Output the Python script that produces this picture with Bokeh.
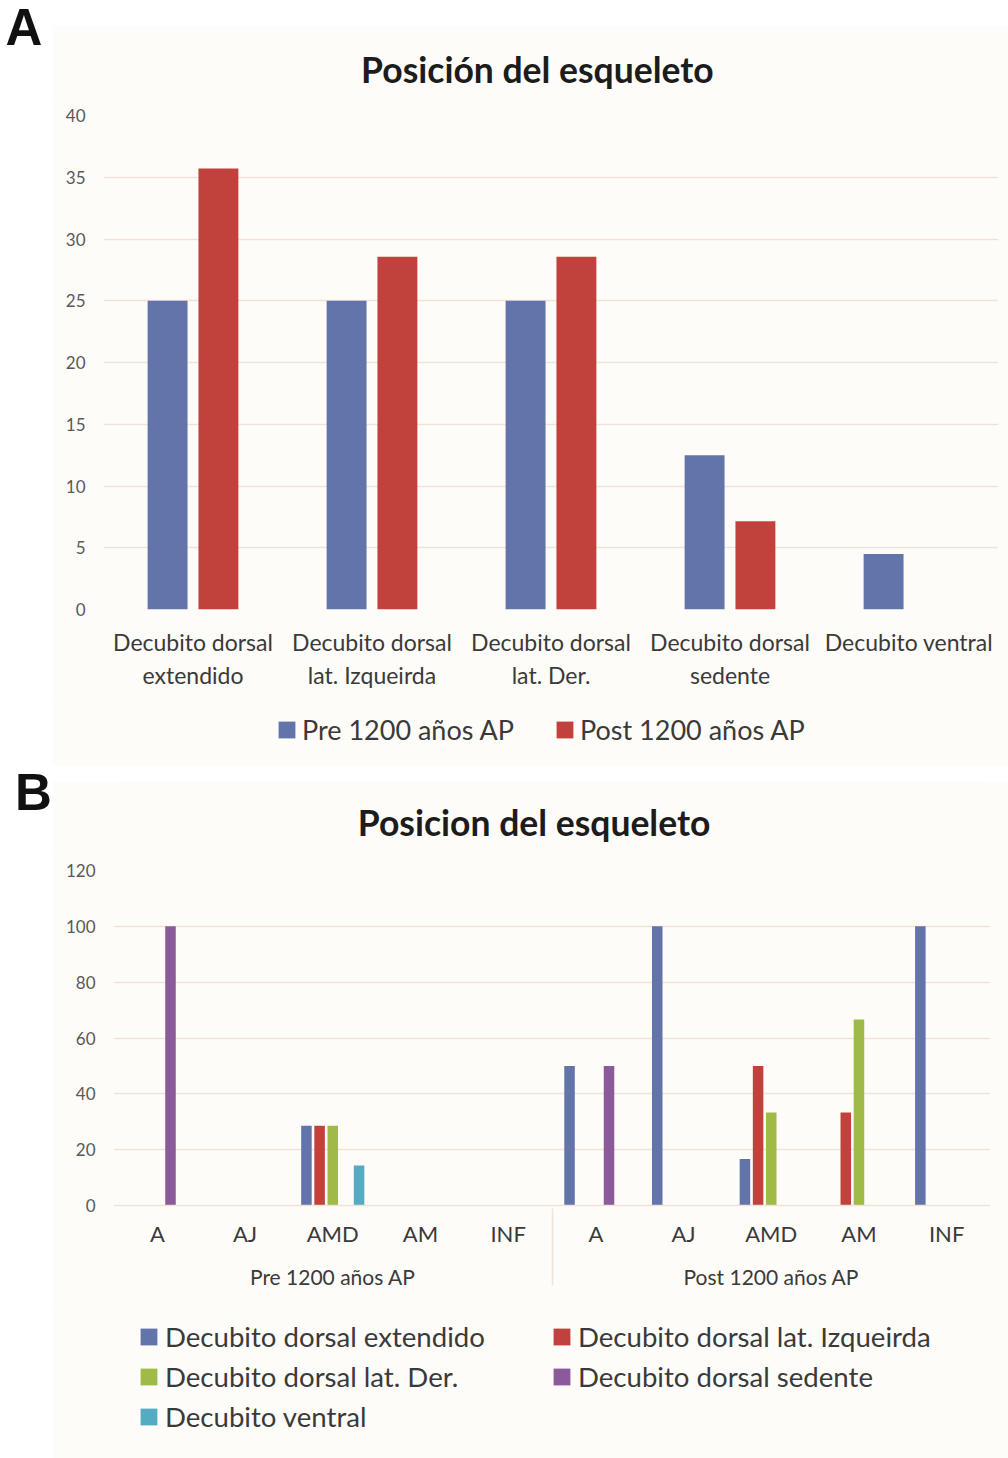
from bokeh.plotting import figure
from bokeh.models import FactorRange, Range1d, Legend, LegendItem, ColumnDataSource, Spacer
from bokeh.transform import dodge
from bokeh.layouts import column, row
from bokeh.core.properties import value
from bokeh.embed import file_html
from bokeh.resources import INLINE

# ---------------- Panel A data ----------------
a_categories = ["Decubito dorsal\nextendido", "Decubito dorsal\nlat. Izqueirda",
                "Decubito dorsal\nlat. Der.", "Decubito dorsal\nsedente", "Decubito ventral"]
a_series = ["Pre 1200 años AP", "Post 1200 años AP"]
a_pre = [25, 25, 25, 12.5, 4.5]
a_post = [35.71, 28.57, 28.57, 7.14, 0]
a_yticks = [0, 5, 10, 15, 20, 25, 30, 35, 40]
a_title = "Posición del esqueleto"

# ---------------- Panel B data ----------------
b_periods = ["Pre 1200 años AP", "Post 1200 años AP"]
b_ages = ["A", "AJ", "AMD", "AM", "INF"]
b_series = ["Decubito dorsal extendido", "Decubito dorsal lat. Izqueirda",
            "Decubito dorsal lat. Der.", "Decubito dorsal sedente", "Decubito ventral"]
b_extendido = [0, 0, 28.57, 0, 0, 50, 100, 16.67, 0, 100]
b_izquierda = [0, 0, 28.57, 0, 0, 0, 0, 50, 33.33, 0]
b_derecha = [0, 0, 28.57, 0, 0, 0, 0, 33.33, 66.67, 0]
b_sedente = [100, 0, 0, 0, 0, 50, 0, 0, 0, 0]
b_ventral = [0, 0, 14.29, 0, 0, 0, 0, 0, 0, 0]
b_yticks = [0, 20, 40, 60, 80, 100, 120]
b_title = "Posicion del esqueleto"

# ---------------- styles ----------------
CREAM = "#FEFCF8"
GRID = "#F1E1D6"
BLUE = "#6274A9"
RED = "#C1413D"
GREEN = "#9EBB48"
PURPLE = "#8A5A9B"
CYAN = "#55ABC3"
FONT = "Lato"
TICK_COL = "#595959"
LAB_COL = "#3A3A3A"
W = 956


def blank_fig(w, h, fill):
    p = figure(width=w, height=h, x_range=Range1d(0, w), y_range=Range1d(0, h),
               x_axis_location=None, y_axis_location=None, toolbar_location=None,
               output_backend="svg", min_border_left=0, min_border_right=0,
               min_border_top=0, min_border_bottom=0, outline_line_color=None, title=None,
               border_fill_color=fill, background_fill_color=fill)
    p.grid.visible = False
    return p


def letter_fig(letter, w, h, x, base_from_top):
    p = blank_fig(w, h, "white")
    p.text(x=[x], y=[h - base_from_top], text=[letter], text_font=value("Liberation Sans"),
           text_font_style="bold", text_font_size="51px", text_baseline="alphabetic",
           text_align="left", text_color="#111111")
    return p


def title_fig(text, h, xc, base_from_top):
    p = blank_fig(W, h, CREAM)
    p.text(x=[xc], y=[h - base_from_top], text=[text], text_font=value(FONT),
           text_font_style="bold", text_font_size="35.5px", text_baseline="alphabetic",
           text_align="center", text_color="#1C1C1C")
    return p


def legend_fig(h, labels, colors, loc, ncols, spacing, label_width, standoff, fsize):
    p = blank_fig(W, h, CREAM)
    items = []
    for lab, c in zip(labels, colors):
        # zero-size proxy renderer that only supplies the legend swatch colour
        r = p.vbar(x=[0], top=[0], width=0, fill_color=c, line_color=None)
        items.append(LegendItem(label=lab, renderers=[r]))
    leg = Legend(items=items, orientation="horizontal", ncols=ncols, location=loc,
                 spacing=spacing, label_standoff=standoff, label_width=label_width,
                 label_height=34, glyph_width=21, glyph_height=21, label_text_font=FONT,
                 label_text_font_size=fsize, label_text_color=LAB_COL,
                 border_line_color=None, background_fill_alpha=0, padding=0, margin=0)
    p.add_layout(leg)
    return p


def style_common(p):
    p.xgrid.grid_line_color = None
    p.ygrid.grid_line_color = GRID
    p.ygrid.grid_line_width = 1.5
    p.yaxis.axis_line_color = None
    p.yaxis.major_tick_line_color = None
    p.yaxis.minor_tick_line_color = None
    p.yaxis.major_tick_out = 0
    p.yaxis.major_tick_in = 0
    p.yaxis.major_label_standoff = 18
    p.yaxis.major_label_text_font = FONT
    p.yaxis.major_label_text_font_size = "17px"
    p.yaxis.major_label_text_color = TICK_COL
    p.xaxis.major_tick_line_color = None
    p.xaxis.minor_tick_line_color = None
    p.xaxis.major_tick_out = 0
    p.xaxis.major_tick_in = 0
    p.xaxis.major_label_text_font = FONT
    p.xaxis.major_label_text_color = LAB_COL


# ---------------- Panel A ----------------
srcA = ColumnDataSource(dict(cat=a_categories, pre=a_pre, post=a_post))
pA = figure(width=W, height=600,
            x_range=FactorRange(factors=a_categories, range_padding=0, factor_padding=0),
            y_range=Range1d(0, 40), output_backend="svg", toolbar_location=None, title=None,
            min_border_left=51, min_border_right=10, min_border_top=15, min_border_bottom=91,
            border_fill_color=CREAM, background_fill_color=CREAM, outline_line_color=None)
style_common(pA)
pA.yaxis.ticker = a_yticks
pA.xaxis.axis_line_color = None
pA.xaxis.major_label_standoff = 18
pA.xaxis.major_label_text_font_size = "23px"
pA.vbar(x=dodge("cat", -0.142, range=pA.x_range), top="pre", width=0.223,
        source=srcA, fill_color=BLUE, line_color=None)
pA.vbar(x=dodge("cat", 0.142, range=pA.x_range), top="post", width=0.223,
        source=srcA, fill_color=RED, line_color=None)

tA = title_fig(a_title, 75, 463.5, 43.5)
lA = legend_fig(65, a_series, [BLUE, RED], (173, 19), "auto", 28, 224, 5, "27px")

# ---------------- Panel B ----------------
b_x = [(per, age) for per in b_periods for age in b_ages]
srcB = ColumnDataSource(dict(x=b_x, ext=b_extendido, izq=b_izquierda, der=b_derecha,
                             sed=b_sedente, ven=b_ventral))
pB = figure(width=W, height=450,
            x_range=FactorRange(factors=b_x, range_padding=0, factor_padding=0,
                                group_padding=0),
            y_range=Range1d(0, 120), output_backend="svg", toolbar_location=None, title=None,
            min_border_left=61, min_border_right=18, min_border_top=15, min_border_bottom=100,
            border_fill_color=CREAM, background_fill_color=CREAM, outline_line_color=None)
style_common(pB)
pB.yaxis.ticker = b_yticks
pB.xaxis.axis_line_color = GRID
pB.xaxis.axis_line_width = 1.5
pB.xaxis.major_label_standoff = 14
pB.xaxis.major_label_text_font_size = "22px"
pB.xaxis.group_text_font = FONT
pB.xaxis.group_text_font_size = "21px"
pB.xaxis.group_text_font_style = "normal"
pB.xaxis.group_text_color = LAB_COL
pB.xaxis.separator_line_color = GRID
pB.xaxis.separator_line_width = 1.5

b_colors = [BLUE, RED, GREEN, PURPLE, CYAN]
b_keys = ["ext", "izq", "der", "sed", "ven"]
b_offsets = [-0.30, -0.15, 0.0, 0.15, 0.30]
for key, colr, off in zip(b_keys, b_colors, b_offsets):
    pB.vbar(x=dodge("x", off, range=pB.x_range), top=key, width=0.12,
            source=srcB, fill_color=colr, line_color=None)

tB = title_fig(b_title, 74, 458.5, 40.5)
lB = legend_fig(153, b_series, b_colors, (25, 25), 2, 6, 380, 6, "27.6px")

# ---------------- layout ----------------
labA = letter_fig("A", 52, 760, 5, 27)
labB = letter_fig("B", 52, 698, 14.5, 32)
colA = column(Spacer(width=W, height=25), tA, pA, lA, Spacer(width=W, height=8))
colB = column(Spacer(width=W, height=8), tB, pB, lB)
layout = row(column(labA, labB), column(colA, colB))

open("out.html", "w").write(file_html(layout, INLINE))
